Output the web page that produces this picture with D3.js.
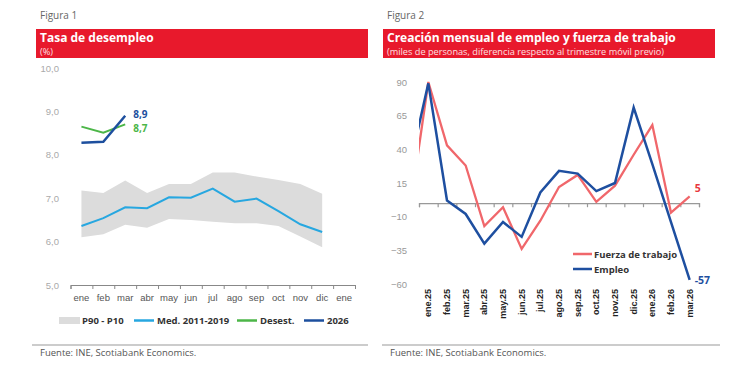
<!DOCTYPE html>
<html>
<head>
<meta charset="utf-8">
<script src="https://cdn.jsdelivr.net/npm/d3@7"></script>
<style>
  body { margin: 0; background: #fff; }
  svg { display: block; font-family: "Open Sans", "Noto Sans", sans-serif; }
</style>
</head>
<body>
<div id="chart"></div>
<script>
// Figura 1 data
const months1 = ["ene", "feb", "mar", "abr", "may", "jun", "jul", "ago", "sep", "oct", "nov", "dic", "ene"];
const p90 = [7.18, 7.12, 7.41, 7.12, 7.33, 7.33, 7.59, 7.59, 7.50, 7.42, 7.33, 7.10];
const p10 = [6.10, 6.17, 6.39, 6.32, 6.52, 6.50, 6.46, 6.42, 6.42, 6.36, 6.12, 5.87];
const med = [6.36, 6.54, 6.79, 6.77, 7.02, 7.01, 7.22, 6.92, 6.99, 6.70, 6.40, 6.22];
const desest = [8.65, 8.51, 8.7];
const y2026 = [8.28, 8.30, 8.9];
const yTicks1 = [5, 6, 7, 8, 9, 10];

// Figura 2 data (first entry is the previous month, cut at the axis edge)
const months2 = ["dic.24", "ene.25", "feb.25", "mar.25", "abr.25", "may.25", "jun.25", "jul.25",
  "ago.25", "sep.25", "oct.25", "nov.25", "dic.25", "ene.26", "feb.26", "mar.26"];
const fuerza = [-6, 90, 43, 28, -17, -3, -34, -13, 12, 21, 1, 13, 36, 58, -7, 5];
const empleo = [27, 89, 2, -8, -30, -14, -25, 8, 24, 22, 9, 15, 71, 29, -14, -57];
const yTicks2 = [90, 65, 40, 15, -10, -35, -60];

const W = 750, H = 386;
const RED = "#e8192c";
const fmt = d3.format(".1f");
const comma = v => fmt(v).replace(".", ",");

const svg = d3.select("#chart").append("svg").attr("width", W).attr("height", H);

// ---------- headers ----------
function header(x0, x1, fig, title, sub) {
  svg.append("text").attr("x", x0 + 4).attr("y", 19).attr("font-size", 10)
    .attr("fill", "#666").text(fig);
  svg.append("rect").attr("x", x0).attr("y", 29).attr("width", x1 - x0).attr("height", 29)
    .attr("fill", RED);
  svg.append("text").attr("x", x0 + 4).attr("y", 41.5).attr("font-size", 12)
    .attr("font-weight", 700).attr("fill", "#fff").text(title);
  svg.append("text").attr("x", x0 + 4).attr("y", 55).attr("font-size", 9.2)
    .attr("fill", "#fde0e2").text(sub);
}
header(36, 368, "Figura 1", "Tasa de desempleo", "(%)");
header(383, 715, "Figura 2", "Creación mensual de empleo y fuerza de trabajo",
  "(miles de personas, diferencia respecto al trimestre móvil previo)");

// footers
[[32, 368, 40], [382, 720, 390]].forEach(([a, b, t]) => {
  svg.append("line").attr("x1", a).attr("x2", b).attr("y1", 345).attr("y2", 345)
    .attr("stroke", "#999").attr("stroke-width", 1.2);
  svg.append("text").attr("x", t).attr("y", 356).attr("font-size", 9.5)
    .attr("fill", "#555").text("Fuente: INE, Scotiabank Economics.");
});

// ---------- Figura 1 ----------
const x1 = d3.scaleBand().domain(d3.range(months1.length)).range([70.5, 355]);
const xb1 = d3.scaleLinear().domain([0, months1.length]).range([70.5, 355]);
const y1 = d3.scaleLinear().domain([5, 10]).range([285, 68]);
const cx1 = i => x1(i) + x1.bandwidth() / 2;

const g1 = svg.append("g");

g1.append("g").attr("transform", "translate(62,0)")
  .call(d3.axisLeft(y1).tickValues(yTicks1).tickSize(0).tickFormat(comma))
  .call(g => g.select(".domain").remove())
  .call(g => g.selectAll("text").attr("fill", "#aaa").attr("font-size", 9.5).attr("dx", 0));

g1.append("path")
  .datum(d3.range(p90.length))
  .attr("fill", "#dcdcdc")
  .attr("d", d3.area().x(i => cx1(i)).y0(i => y1(p10[i])).y1(i => y1(p90[i])));

g1.append("g").attr("transform", "translate(0,285)")
  .call(d3.axisBottom(xb1).ticks(months1.length).tickSize(4).tickFormat(""))
  .call(g => g.selectAll("line, path").attr("stroke", "#888"));

g1.append("g").attr("transform", "translate(0,285)")
  .call(d3.axisBottom(x1).tickSize(0).tickPadding(9).tickFormat(i => months1[i]))
  .call(g => g.select(".domain").remove())
  .call(g => g.selectAll("text").attr("fill", "#555").attr("font-size", 9.5));

const line1 = d3.line().x((d, i) => cx1(i)).y(d => y1(d));
g1.append("path").datum(med).attr("fill", "none").attr("stroke", "#27a7e0")
  .attr("stroke-width", 2).attr("d", line1);
g1.append("path").datum(desest).attr("fill", "none").attr("stroke", "#4cb648")
  .attr("stroke-width", 2).attr("d", line1);
g1.append("path").datum(y2026).attr("fill", "none").attr("stroke", "#1d4f9e")
  .attr("stroke-width", 2.5).attr("d", line1);

g1.append("text").attr("x", cx1(2) + 8).attr("y", 117.5)
  .attr("font-size", 10).attr("font-weight", 700).attr("fill", "#1d4f9e").text(comma(y2026[2]));
g1.append("text").attr("x", cx1(2) + 8).attr("y", 131.5)
  .attr("font-size", 10).attr("font-weight", 700).attr("fill", "#4cb648").text(comma(desest[2]));

// legend 1
const leg1 = [
  { label: "P90 - P10", type: "rect", color: "#dcdcdc", x: 59 },
  { label: "Med. 2011-2019", type: "line", color: "#27a7e0", x: 134 },
  { label: "Desest.", type: "line", color: "#4cb648", x: 237 },
  { label: "2026", type: "line", color: "#1d4f9e", x: 304 }
];
leg1.forEach(d => {
  if (d.type === "rect") {
    g1.append("rect").attr("x", d.x).attr("y", 317).attr("width", 21).attr("height", 7).attr("fill", d.color);
  } else {
    g1.append("line").attr("x1", d.x).attr("x2", d.x + 20).attr("y1", 320.5).attr("y2", 320.5)
      .attr("stroke", d.color).attr("stroke-width", 2.5);
  }
  g1.append("text").attr("x", d.x + 23).attr("y", 324).attr("font-size", 9.5)
    .attr("font-weight", 700).attr("fill", "#333").text(d.label);
});

// ---------- Figura 2 ----------
const step2 = 280 / (months2.length - 1);
const x2 = d3.scaleBand().domain(months2).range([419 - step2, 699]);
const xb2 = d3.scaleLinear().domain([0, months2.length - 1]).range([419, 699]);
const y2 = d3.scaleLinear().domain([-60, 90]).range([284, 82]);
const cx2 = m => x2(m) + x2.bandwidth() / 2;

const g2 = svg.append("g");

g2.append("g").attr("transform", "translate(410,0)")
  .call(d3.axisLeft(y2).tickValues(yTicks2).tickSize(0))
  .call(g => g.select(".domain").remove())
  .call(g => g.selectAll("text").attr("fill", "#999").attr("font-size", 9.5));

g2.append("g").attr("transform", `translate(0,${y2(0)})`)
  .call(d3.axisBottom(xb2).ticks(months2.length - 1).tickSize(4).tickFormat(""))
  .call(g => g.selectAll("line, path").attr("stroke", "#999").attr("stroke-width", 1.2));

g2.append("g").attr("transform", "translate(0,289)")
  .call(d3.axisBottom(x2).tickValues(months2.slice(1)).tickSize(0).tickPadding(0))
  .call(g => g.select(".domain").remove())
  .call(g => g.selectAll("text")
    .attr("transform", "rotate(-90)").attr("text-anchor", "end")
    .attr("x", 0).attr("y", 0).attr("dx", 0).attr("dy", "0.35em")
    .attr("font-size", 9).attr("font-weight", 700).attr("fill", "#222"));

svg.append("clipPath").attr("id", "clip2")
  .append("rect").attr("x", 419).attr("y", 60).attr("width", 290).attr("height", 240);

const line2 = d3.line().x((d, i) => cx2(months2[i])).y(d => y2(d));
g2.append("path").datum(fuerza).attr("clip-path", "url(#clip2)").attr("fill", "none")
  .attr("stroke", "#f0676b").attr("stroke-width", 2.3).attr("d", line2);
g2.append("path").datum(empleo).attr("clip-path", "url(#clip2)").attr("fill", "none")
  .attr("stroke", "#1e4fa0").attr("stroke-width", 2.5).attr("d", line2);

const last = months2[months2.length - 1];
g2.append("text").attr("x", cx2(last) + 5).attr("y", y2(fuerza[fuerza.length - 1]) - 4)
  .attr("font-size", 10.5).attr("font-weight", 700).attr("fill", "#e8383d")
  .text(fuerza[fuerza.length - 1]);
g2.append("text").attr("x", cx2(last) + 5).attr("y", y2(empleo[empleo.length - 1]) + 4)
  .attr("font-size", 10.5).attr("font-weight", 700).attr("fill", "#1e4fa0")
  .text(empleo[empleo.length - 1]);

// legend 2
[["Fuerza de trabajo", "#f0676b", 254], ["Empleo", "#1e4fa0", 269]].forEach(([t, c, y]) => {
  g2.append("line").attr("x1", 573).attr("x2", 592).attr("y1", y).attr("y2", y)
    .attr("stroke", c).attr("stroke-width", 2.5);
  g2.append("text").attr("x", 594).attr("y", y + 3.5).attr("font-size", 9.5)
    .attr("font-weight", 700).attr("fill", "#333").text(t);
});
</script>
</body>
</html>
